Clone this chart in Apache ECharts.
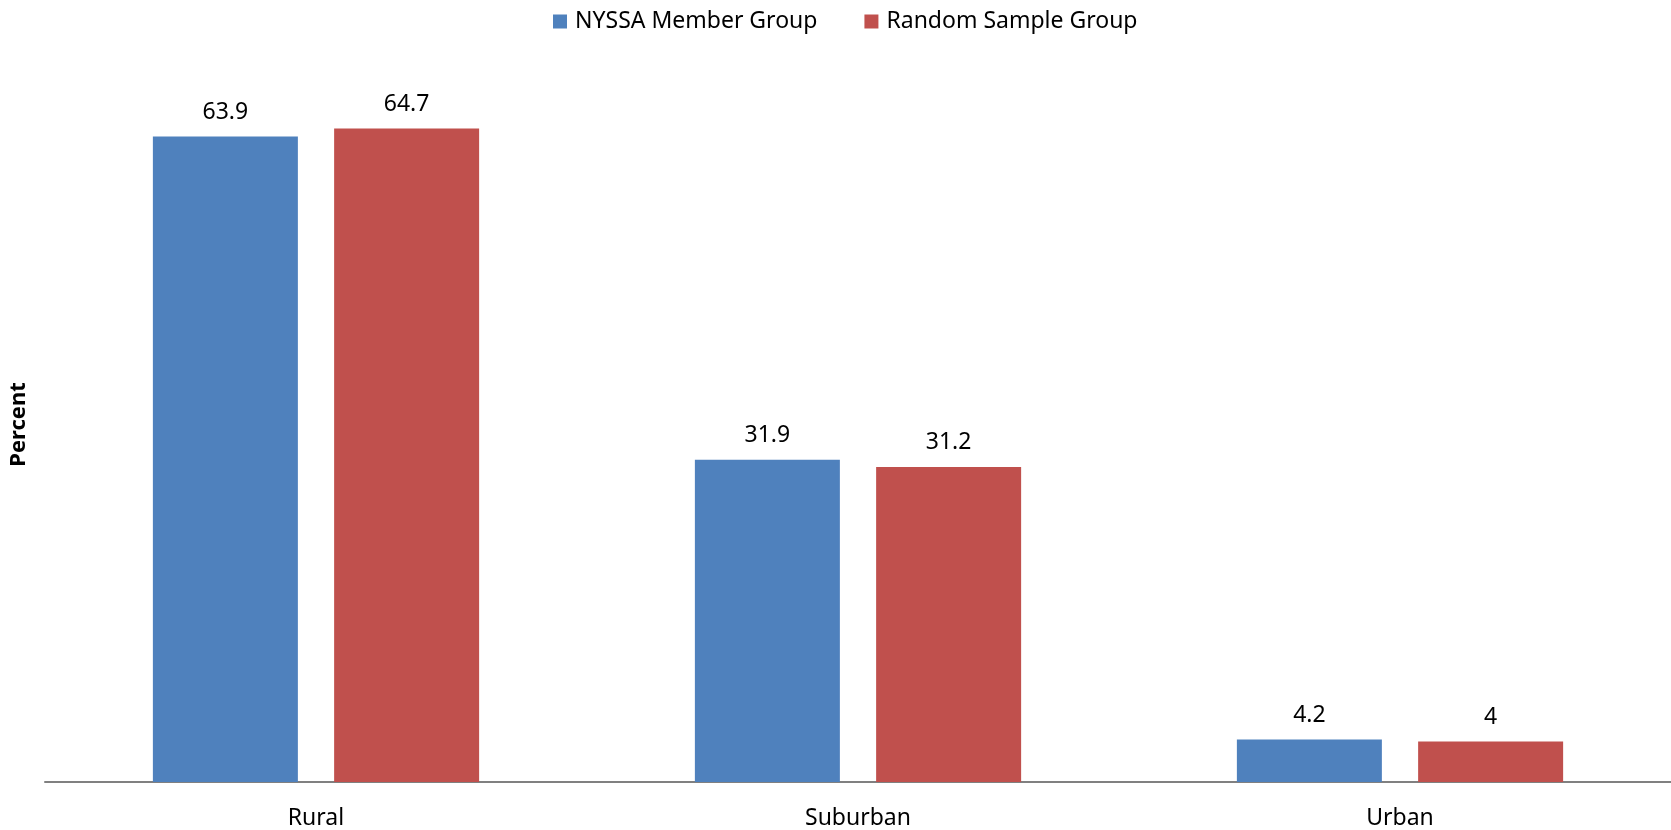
<!DOCTYPE html>
<html>
<head>
<meta charset="utf-8">
<title>Community type by group</title>
<script src="https://cdn.jsdelivr.net/npm/echarts@6/dist/echarts.min.js"></script>
<style>
  html, body { margin: 0; padding: 0; background: #ffffff; }
  #chart { width: 1671px; height: 830px; }
</style>
</head>
<body>
<div id="chart"></div>
<script>
// Share of respondents by community type, in percent
const categories = ['Rural', 'Suburban', 'Urban'];
const memberGroup = [63.9, 31.9, 4.2];
const randomSample = [64.7, 31.2, 4];
const seriesNames = ['NYSSA Member Group', 'Random Sample Group'];
const axisTitle = 'Percent';

const FONT = '"Noto Sans", "Open Sans", sans-serif';
const BLUE = '#4F81BD';
const RED = '#C0504D';

const labelStyle = {
  show: true,
  position: 'top',
  distance: 13,
  color: '#000000',
  fontFamily: FONT,
  fontSize: 23
};

const chart = echarts.init(document.getElementById('chart'), null, { renderer: 'canvas' });

chart.setOption({
  animation: false,
  backgroundColor: '#ffffff',
  legend: {
    top: 5,
    left: 548,
    itemWidth: 14,
    itemHeight: 14,
    itemGap: 47,
    icon: 'rect',
    textStyle: { fontFamily: FONT, fontSize: 23, color: '#000000', padding: [0, 0, 0, 3] },
    data: seriesNames
  },
  grid: {
    left: 45,
    right: -3,
    top: 75,
    bottom: 48,
    containLabel: false
  },
  xAxis: {
    type: 'category',
    data: categories,
    axisLine: { show: true, lineStyle: { color: '#808080', width: 2 } },
    axisTick: { show: false },
    axisLabel: {
      fontFamily: FONT,
      fontSize: 23,
      color: '#000000',
      margin: 25
    }
  },
  yAxis: {
    type: 'value',
    min: 0,
    max: 70,
    interval: 10,
    name: axisTitle,
    nameLocation: 'middle',
    nameGap: 15,
    nameRotate: 90,
    nameTextStyle: {
      fontFamily: FONT,
      fontSize: 22,
      fontWeight: 'bold',
      color: '#000000',
      padding: [0, 0, 0, 8]
    },
    axisLine: { show: false },
    axisTick: { show: false },
    axisLabel: { show: false },
    splitLine: { show: false }
  },
  series: [
    {
      name: seriesNames[0],
      type: 'bar',
      data: memberGroup,
      barWidth: 145,
      barGap: '25%',
      itemStyle: { color: BLUE },
      label: labelStyle
    },
    {
      name: seriesNames[1],
      type: 'bar',
      data: randomSample,
      barWidth: 145,
      barGap: '25%',
      itemStyle: { color: RED },
      label: labelStyle
    }
  ]
});
</script>
</body>
</html>
